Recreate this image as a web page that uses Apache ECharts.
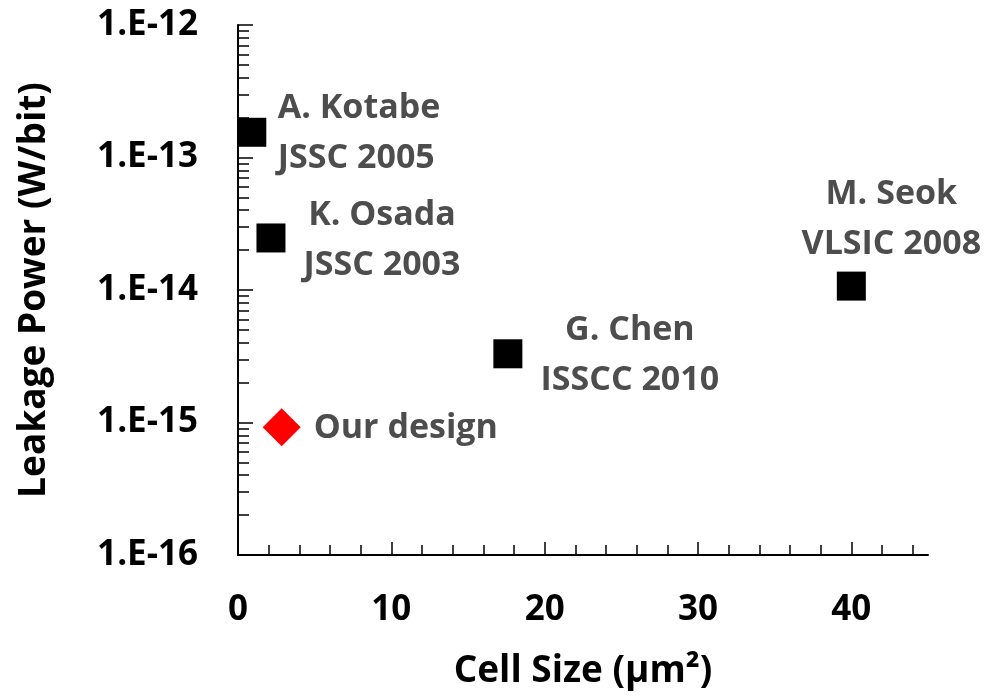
<!DOCTYPE html>
<html>
<head>
<meta charset="utf-8">
<script src="https://cdn.jsdelivr.net/npm/echarts@6/dist/echarts.min.js"></script>
<style>
  html, body { margin: 0; padding: 0; background: #fff; }
  #chart { width: 993px; height: 698px; }
</style>
</head>
<body>
<div id="chart"></div>
<script>
// Published SRAM cells: cell size (µm²) vs. leakage power per bit (W/bit)
const refNames = ['A. Kotabe\nJSSC 2005', 'K. Osada\nJSSC 2003', 'G. Chen\nISSCC 2010', 'M. Seok\nVLSIC 2008'];
const refCellSize = [0.9, 2.15, 17.6, 40.0];
const refLeakage = [1.55e-13, 2.47e-14, 3.3e-15, 1.07e-14];

const ourNames = ['Our design'];
const ourCellSize = [2.85];
const ourLeakage = [9.2e-16];

// Axis ticks
const xTickLabels = [0, 10, 20, 30, 40];
const xMinorTicks = [2, 4, 6, 8, 12, 14, 16, 18, 22, 24, 26, 28, 32, 34, 36, 38, 42, 44];
const yExponents = [-16, -15, -14, -13, -12];
const yTickLabels = ['1.E-16', '1.E-15', '1.E-14', '1.E-13', '1.E-12'];

const yMajorTicks = yExponents.map(e => Math.pow(10, e));
const yMinorTicks = [];
for (let e = -16; e < -12; e++) {
  for (let k = 2; k <= 9; k++) yMinorTicks.push(k * Math.pow(10, e));
}

// Label placement relative to each marker: [align, dx, dy]
const refLabelPlacement = [['left', 26, 1], ['center', 111, 2], ['center', 122, 2], ['center', 40, -67]];
const ourLabelPlacement = [['left', 32, 1]];

const FONT = '"Open Sans", "DejaVu Sans", sans-serif';
const labelText = { fontFamily: FONT, fontSize: 34, fontWeight: 'bold', color: '#4d4d4d', lineHeight: 50, opacity: 1 };

function pointsWithLabels(names, xs, ys, placement) {
  return xs.map((x, i) => ({
    name: names[i],
    value: [x, ys[i]],
    label: Object.assign({
      show: true,
      position: 'inside',
      formatter: '{b}',
      align: placement[i][0],
      verticalAlign: 'middle',
      offset: [placement[i][1], placement[i][2]]
    }, labelText)
  }));
}

const axisLine = { show: true, onZero: false, lineStyle: { color: '#000', width: 2 } };
const tickLine = { color: '#000', width: 1.5 };
const axisFont = { fontFamily: FONT, fontSize: 35, fontWeight: 'bold', color: '#000' };

const chart = echarts.init(document.getElementById('chart'), null, { renderer: 'canvas' });
chart.setOption({
  backgroundColor: '#fff',
  animation: false,
  grid: { left: 238, right: 65, top: 25, bottom: 143, containLabel: false },
  xAxis: [
    {
      type: 'value', min: 0, max: 45, position: 'bottom',
      name: 'Cell Size (µm²)', nameLocation: 'middle', nameGap: 98,
      nameTextStyle: Object.assign({}, axisFont, { fontSize: 37 }),
      axisLine: axisLine,
      axisTick: { show: true, inside: true, length: 13, lineStyle: tickLine, customValues: xTickLabels },
      axisLabel: Object.assign({ show: true, margin: 38, customValues: xTickLabels }, axisFont),
      splitLine: { show: false }
    },
    {
      type: 'value', min: 0, max: 45, position: 'bottom',
      axisLine: { show: false },
      axisTick: { show: true, inside: true, length: 10, lineStyle: tickLine, customValues: xMinorTicks },
      axisLabel: { show: false },
      splitLine: { show: false }
    }
  ],
  yAxis: [
    {
      type: 'log', logBase: 10, min: 1e-16, max: 1e-12, position: 'left',
      name: 'Leakage Power (W/bit)', nameLocation: 'middle', nameGap: 185, nameRotate: 90,
      nameTextStyle: Object.assign({}, axisFont, { fontSize: 37 }),
      axisLine: axisLine,
      axisTick: { show: true, inside: true, length: 15, lineStyle: tickLine, customValues: yMajorTicks },
      axisLabel: Object.assign({
        show: true, margin: 40,
        customValues: yMajorTicks,
        formatter: v => yTickLabels[yExponents.indexOf(Math.round(Math.log10(v)))]
      }, axisFont),
      splitLine: { show: false }
    },
    {
      type: 'log', logBase: 10, min: 1e-16, max: 1e-12, position: 'left',
      axisLine: { show: false },
      axisTick: { show: true, inside: true, length: 11, lineStyle: tickLine, customValues: yMinorTicks },
      axisLabel: { show: false },
      splitLine: { show: false }
    }
  ],
  series: [
    {
      name: 'Published',
      type: 'scatter',
      symbol: 'rect',
      symbolSize: 29,
      itemStyle: { color: '#000', opacity: 1 },
      data: pointsWithLabels(refNames, refCellSize, refLeakage, refLabelPlacement),
      z: 3
    },
    {
      name: 'Our design',
      type: 'scatter',
      symbol: 'diamond',
      symbolSize: 38,
      itemStyle: { color: '#ff0000', opacity: 1 },
      data: pointsWithLabels(ourNames, ourCellSize, ourLeakage, ourLabelPlacement),
      z: 3
    }
  ]
});
</script>
</body>
</html>
